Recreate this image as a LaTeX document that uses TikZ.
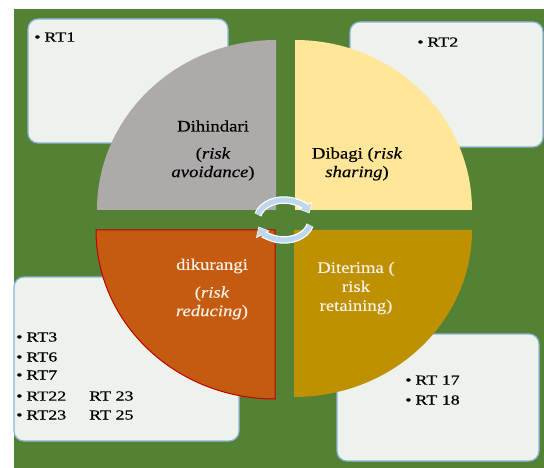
\documentclass[tikz,border=0pt]{standalone}
\usepackage{fontspec}
\setmainfont{Liberation Serif}[FakeBold=0.4]
\usetikzlibrary{arrows.meta}
\definecolor{bggreen}{HTML}{548235}
\definecolor{boxfill}{HTML}{EDF2EC}
\definecolor{boxline}{HTML}{8DB4DC}
\definecolor{qgray}{HTML}{AEAAAA}
\definecolor{qyellow}{HTML}{FFE699}
\definecolor{qorange}{HTML}{C55A11}
\definecolor{qred}{HTML}{C00000}
\definecolor{qgold}{HTML}{BF9000}
\definecolor{cyc}{HTML}{BDD7EE}
\definecolor{lighttxt}{HTML}{F6F1E4}
\newcommand{\bul}{\textbullet\hspace{3pt}}
\tikzset{
  listbox/.style={fill=boxfill,draw=boxline,line width=1.2pt,rounded corners=10pt},
  listtxt/.style={anchor=west,inner sep=0pt,xscale=1.3,transform shape,font=\fontsize{13.8}{20}\selectfont,text=black},
  qlabel/.style={align=center,inner sep=0pt,xscale=1.17,transform shape,font=\fontsize{16}{18.5}\selectfont},
  cycout/.style={draw=white,line width=7.5pt,-{Triangle[width=15pt,length=9pt]}},
  cycarrow/.style={draw=cyc,line width=5pt,-{Triangle[width=12pt,length=7pt]}}
}
\begin{document}
\begin{tikzpicture}[x=1pt,y=1pt]
\useasboundingbox (0,0) rectangle (544,-468);
\fill[white] (0,0) rectangle (544,-468);
\fill[bggreen] (14,-9) rectangle (544,-468);
% list boxes
\draw[listbox] (28,-19) rectangle (228,-143);
\draw[listbox] (350,-22) rectangle (543,-147);
\draw[listbox] (14,-277) rectangle (239,-441);
\draw[listbox] (337,-334) rectangle (539,-461);
% quadrants
\fill[qgray] (276,-210) -- (97,-210) arc[start angle=180,end angle=90,x radius=179,y radius=170] -- cycle;
\fill[qyellow] (295,-210) -- (295,-40) arc[start angle=90,end angle=0,x radius=177,y radius=170] -- cycle;
\filldraw[fill=qorange,draw=qred,line width=1pt] (275,-230) -- (96,-230) arc[start angle=180,end angle=270,x radius=179,y radius=169] -- cycle;
\fill[qgold] (294,-230) -- (472,-230) arc[start angle=0,end angle=-90,x radius=178,y radius=167] -- cycle;
% cycle arrows
\coordinate (cc) at (284,-220);
\draw[cycout,shorten >=-1pt] ([shift={(165:27 and 20)}]cc) arc[start angle=165,end angle=22,x radius=27,y radius=20];
\draw[cycout,shorten >=-1pt] ([shift={(-15:27 and 20)}]cc) arc[start angle=-15,end angle=-158,x radius=27,y radius=20];
\draw[cycarrow] ([shift={(165:27 and 20)}]cc) arc[start angle=165,end angle=22,x radius=27,y radius=20];
\draw[cycarrow] ([shift={(-15:27 and 20)}]cc) arc[start angle=-15,end angle=-158,x radius=27,y radius=20];
% quadrant labels
\node[qlabel] (q1a) at (213,-126) {Dihindari};
\node[qlabel] (q1b) at (213,-164) {(\textit{risk}\\\textit{avoidance})};
\node[qlabel] (q2) at (357,-164) {Dibagi (\textit{risk}\\\textit{sharing})};
\node[qlabel,text=lighttxt] (q3a) at (212,-266) {dikurangi};
\node[qlabel,text=lighttxt] (q3b) at (212,-303) {(\textit{risk}\\\textit{reducing})};
\node[qlabel,text=lighttxt,font=\fontsize{16}{19}\selectfont] (q4) at (356,-288) {Diterima (\\risk\\retaining)};
% lists
\node[listtxt] (rt1) at (34,-37) {\bul RT1};
\node[listtxt] (rt2) at (417,-42) {\bul RT2};
\node[listtxt] (rt3) at (16,-337) {\bul RT3};
\node[listtxt] (rt6) at (16,-357) {\bul RT6};
\node[listtxt] (rt7) at (16,-375) {\bul RT7};
\node[listtxt] (rt22) at (16,-396) {\bul RT22};
\node[listtxt] (rt23b) at (89,-396) {RT 23};
\node[listtxt] (rt23) at (16,-415) {\bul RT23};
\node[listtxt] (rt25) at (89,-415) {RT 25};
\node[listtxt] (rt17) at (405,-380) {\bul RT 17};
\node[listtxt] (rt18) at (405,-400) {\bul RT 18};
\end{tikzpicture}
\end{document}
